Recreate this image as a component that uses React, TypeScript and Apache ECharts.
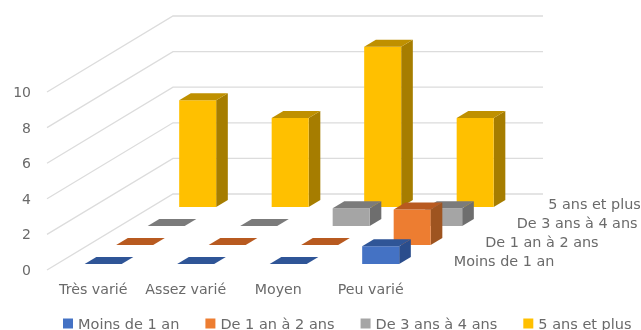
import React, { useEffect, useRef } from "react";
import * as echarts from "echarts";

const categories = ["Très varié", "Assez varié", "Moyen", "Peu varié"];
const seriesNames = ["Moins de 1 an", "De 1 an à 2 ans", "De 3 ans à 4 ans", "5 ans et plus"];
const moinsDe1An = [0, 0, 0, 1];
const de1a2Ans = [0, 0, 0, 2];
const de3a4Ans = [0, 0, 1, 1];
const cinqAnsEtPlus = [6, 5, 9, 5];
const yTicks = [0, 2, 4, 6, 8, 10];
const allValues = [moinsDe1An, de1a2Ans, de3a4Ans, cinqAnsEtPlus];

const faceColors = ["#4472C4", "#ED7D31", "#A5A5A5", "#FFC000"];
const topColors = ["#2F5597", "#B85A20", "#7B7B7B", "#BF9000"];
const sideColors = ["#2A4D8C", "#9E5420", "#6E6E6E", "#A67D00"];

const ROW_DX = 31.5;
const ROW_DY = -19;
const BAR_W = 0.4;
const BAR_D = 0.37;
const TEXT = "#6a6a6a";
const FONT = "'DejaVu Sans', sans-serif";

function wallItem(_p: any, api: any) {
  const v = api.value(0);
  const w = api.size([1, 0])[0];
  const first = api.coord([0, v]);
  const x0 = first[0] - w / 2;
  const y0 = first[1];
  const bx = x0 + ROW_DX * 4;
  const by = y0 + ROW_DY * 4;
  return {
    type: "polyline",
    shape: { points: [[x0, y0], [bx, by], [bx + w * categories.length, by]] },
    style: { fill: "none", stroke: "#dcdcdc", lineWidth: 1.3 },
    silent: true,
  };
}

function barRenderer(row: number) {
  return (_p: any, api: any) => {
    const cat = api.value(0);
    const val = api.value(1);
    const band = api.size([1, 0])[0];
    const base = api.coord([cat, 0]);
    const top = api.coord([cat, val]);
    const gap = (1 - BAR_D) / 2;
    const off = row + gap;
    const fx = base[0] - (band * BAR_W) / 2 + off * ROW_DX;
    const w = band * BAR_W;
    const fy0 = base[1] + off * ROW_DY;
    const fy1 = top[1] + off * ROW_DY;
    const dx = BAR_D * ROW_DX;
    const dy = BAR_D * ROW_DY;
    const children: any[] = [];
    if (val > 0) {
      children.push({
        type: "polygon",
        shape: { points: [[fx + w, fy0], [fx + w + dx, fy0 + dy], [fx + w + dx, fy1 + dy], [fx + w, fy1]] },
        style: { fill: sideColors[row] },
      });
      children.push({
        type: "rect",
        shape: { x: fx, y: fy1, width: w, height: fy0 - fy1 },
        style: { fill: faceColors[row] },
      });
    }
    children.push({
      type: "polygon",
      shape: { points: [[fx, fy1], [fx + dx, fy1 + dy], [fx + w + dx, fy1 + dy], [fx + w, fy1]] },
      style: { fill: topColors[row] },
    });
    return { type: "group", children };
  };
}

function depthLabelItem(_p: any, api: any) {
  const row = api.value(0);
  const base = api.coord([categories.length - 1, 0]);
  const band = api.size([1, 0])[0];
  return {
    type: "text",
    style: {
      x: base[0] + band / 2 + (row + 0.5) * ROW_DX + 21,
      y: base[1] + (row + 0.5) * ROW_DY,
      text: seriesNames[row],
      fill: TEXT,
      font: `14.4px ${FONT}`,
      textAlign: "left",
      textVerticalAlign: "middle",
    },
  };
}

export default function App() {
  const ref = useRef<HTMLDivElement>(null);
  useEffect(() => {
    const chart = echarts.init(ref.current!, undefined, { renderer: "svg" });
    chart.setOption({
      animation: false,
      backgroundColor: "#fff",
      grid: { left: 47, top: 92, width: 370, height: 178 },
      xAxis: {
        type: "category",
        data: categories,
        axisLine: { show: false },
        axisTick: { show: false },
        axisLabel: { color: TEXT, fontFamily: FONT, fontSize: 14.2, margin: 12, interval: 0 },
      },
      yAxis: {
        type: "value",
        min: 0,
        max: 10,
        interval: 2,
        axisLine: { show: false },
        axisTick: { show: false },
        splitLine: { show: false },
        axisLabel: { color: TEXT, fontFamily: FONT, fontSize: 14, margin: 16 },
      },
      legend: {
        left: 63,
        top: 316,
        itemWidth: 10,
        itemHeight: 10,
        itemGap: 26,
        icon: "rect",
        padding: 0,
        data: seriesNames,
        textStyle: { color: TEXT, fontFamily: FONT, fontSize: 14.5, padding: [0, 0, 0, 0] },
      },
      series: [
        {
          type: "custom",
          name: "walls",
          renderItem: wallItem,
          data: yTicks.map((t) => [t]),
          encode: { y: 0 },
          clip: false,
          silent: true,
          z: 1,
        },
        ...seriesNames.map((name, row) => ({
          type: "custom",
          name,
          renderItem: barRenderer(row),
          data: allValues[row].map((v, i) => [i, v]),
          encode: { x: 0, y: 1 },
          itemStyle: { color: faceColors[row] },
          clip: false,
          silent: true,
          z: 6 - row,
        })),
        {
          type: "custom",
          name: "depth",
          renderItem: depthLabelItem,
          data: seriesNames.map((_, i) => [i]),
          encode: { y: [] },
          clip: false,
          silent: true,
          z: 7,
        },
      ],
    });
    return () => chart.dispose();
  }, []);
  return (
    <div
      ref={ref}
      style={{ position: "absolute", left: 0, top: 0, width: 641, height: 330, filter: "blur(0.5px)" }}
    />
  );
}
